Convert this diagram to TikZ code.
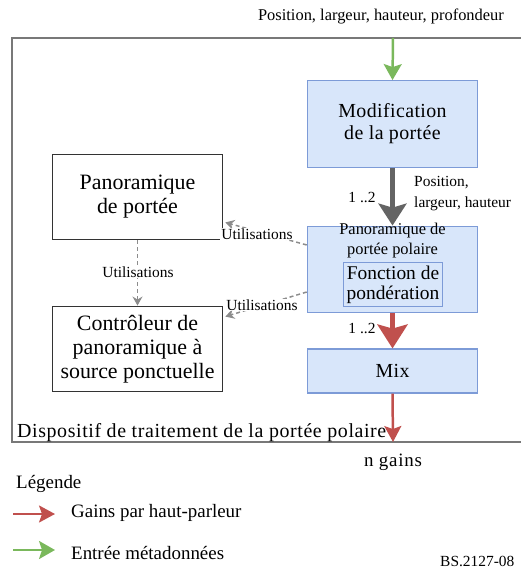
\documentclass[tikz,border=0pt]{standalone}
\usepackage{fontspec}
\setmainfont{Liberation Serif}
\usetikzlibrary{positioning,arrows.meta,calc}

\definecolor{boxfill}{RGB}{216,230,250}
\definecolor{boxline}{RGB}{125,155,215}
\definecolor{gainred}{RGB}{192,80,77}
\definecolor{metagreen}{RGB}{122,184,92}
\definecolor{flowgray}{RGB}{100,100,100}
\definecolor{usegray}{RGB}{140,140,140}
\definecolor{framegray}{RGB}{120,120,120}

\tikzset{
  bluebox/.style={draw=boxline, line width=1.2, fill=boxfill, align=center, inner sep=0,
    minimum width=171, font=\fontsize{20}{22}\selectfont\addfontfeature{LetterSpace=2}},
  whitebox/.style={draw=black!80, line width=1.2, fill=white, align=center, inner sep=0,
    minimum width=171, minimum height=86, font=\fontsize{22}{24}\selectfont},
  smalltext/.style={inner sep=0, font=\fontsize{15.5}{21}\selectfont},
  bigtext/.style={inner sep=0, font=\fontsize{19}{22}\selectfont},
  usesarrow/.style={draw=usegray, line width=1.5, dash pattern=on 4pt off 3pt,
    -{Stealth[length=9,width=10]}},
  gainarrow/.style={draw=gainred, line width=2.5, -{Stealth[length=16,width=17,inset=3]}},
  metaarrow/.style={draw=metagreen, line width=2.5, -{Stealth[length=16,width=18,inset=3]}}
}

\begin{document}
\begin{tikzpicture}[x=1bp, y=-1bp]
    \useasboundingbox (0,0) rectangle (521,571);
    % Frame of the device
    \draw[framegray, line width=1.8] (12,38) rectangle (523,442);
    \node[anchor=base west, inner sep=0,
        font=\fontsize{20}{22}\selectfont\addfontfeature{LetterSpace=3}] (devlabel) at (17,437)
        {Dispositif de traitement de la portée polaire};
    \coordinate (metain) at (393,38);
    \coordinate (gainsout) at (393,442);
    % Blocks of the polar extent path
    \node[bluebox, minimum height=87] (modif) at (392.5,124) {Modification\\de la portée};
    \node[bluebox, minimum height=87] (polar) at (392.5,269.5) {};
    \node[anchor=north, inner sep=0, align=center, font=\fontsize{16.5}{20}\selectfont] (polartext)
        at (392.5,223) {Panoramique de\\portée polaire};
    \node[draw=boxline, line width=1.2, inner sep=0, align=center, minimum width=100,
        minimum height=44, font=\fontsize{19.5}{20}\selectfont] (ponder) at (393,284.5)
        {Fonction de\\pondération};
    \node[bluebox, minimum height=44] (mix) at (392.5,371) {Mix};
    % Panners used by the polar block
    \node[whitebox] (pano) at (137.5,197) {Panoramique\\de portée};
    \node[whitebox] (ctrl) at (137.5,349) {Contrôleur de\\panoramique à\\source ponctuelle};
    % Flow arrows
    \draw[metaarrow] (metain) -- (modif.north);
    \draw[flowgray, line width=5, -{Stealth[length=22,width=28,inset=4]}] (modif.south) -- (polar.north);
    \draw[gainred, line width=6, -{Stealth[length=24,width=30,inset=4]}] (polar.south) -- (mix.north);
    \draw[gainarrow] (mix.south) -- (gainsout);
    % Uses
    \draw[usesarrow] ($(polar.west)+(0,-24.5)$) -- ($(pano.south east)+(2,-18)$);
    \draw[usesarrow] ($(polar.west)+(0,22.5)$) -- ($(ctrl.north east)+(2,11)$);
    \draw[usesarrow] (pano.south) -- (ctrl.north);
    \node[smalltext, fill=white, inner sep=1] (useone) at (257,234) {Utilisations};
    \node[smalltext, fill=white, inner sep=1] (usetwo) at (262,305) {Utilisations};
    \node[smalltext, fill=white, inner sep=1] (usethree) at (138,272) {Utilisations};
    % Labels of the arrows
    \node[smalltext, font=\fontsize{16.5}{21}\selectfont] (metalabel) at (381,16)
        {Position, largeur, hauteur, profondeur};
    \node[smalltext] (countone) at (362,197) {1 ..2};
    \node[smalltext] (counttwo) at (362,328) {1 ..2};
    \node[smalltext, anchor=north west, align=left] (extentlabel) at (414,176)
        {Position,\\largeur, hauteur};
    \node[bigtext, font=\fontsize{19}{22}\selectfont\addfontfeature{LetterSpace=4}] (gainslabel)
        at (393,462) {n gains};
    % Legend
    \node[bigtext, anchor=west] (legend) at (16,484) {Légende};
    \coordinate (redstart) at (13,514);
    \coordinate (redend) at (55,514);
    \coordinate (greenstart) at (13,550);
    \coordinate (greenend) at (55,550);
    \draw[gainarrow] (redstart) -- (redend);
    \draw[metaarrow] (greenstart) -- (greenend);
    \node[bigtext, anchor=west] (redtext) at (71,513) {Gains par haut-parleur};
    \node[bigtext, anchor=west] (greentext) at (71,553) {Entrée métadonnées};
    \node[smalltext, anchor=west] (figref) at (440,561) {BS.2127-08};
\end{tikzpicture}
\end{document}
